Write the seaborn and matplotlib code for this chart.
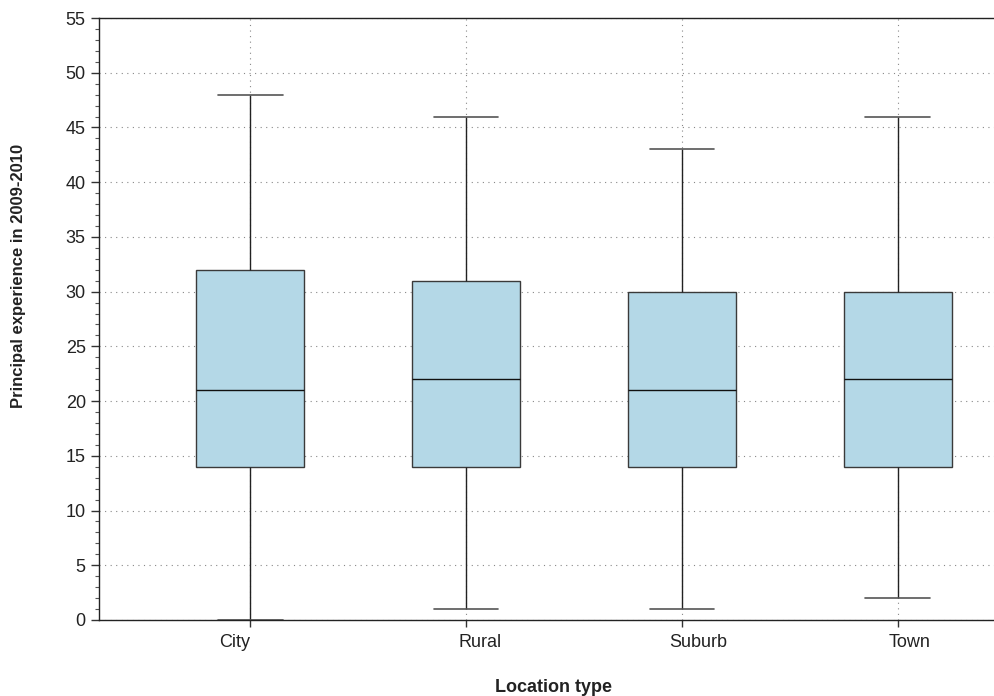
import numpy as np
import pandas as pd
import matplotlib
matplotlib.use("Agg")
import matplotlib.pyplot as plt
import matplotlib.transforms as mtransforms
from matplotlib.ticker import MultipleLocator
import seaborn as sns

# Five-number summaries of principal experience (years) by location type
locations = ["City", "Rural", "Suburb", "Town"]
exp_min = [0, 1, 1, 2]
exp_q1 = [14, 14, 14, 14]
exp_median = [21, 22, 21, 22]
exp_q3 = [32, 31, 30, 30]
exp_max = [48, 46, 43, 46]

rows = []
for loc, a, b, c, d, e in zip(locations, exp_min, exp_q1, exp_median, exp_q3, exp_max):
    for v in (a, b, c, d, e):
        rows.append({"Location type": loc, "experience": v})
df = pd.DataFrame(rows)

sns.set_theme(style="white")
plt.rcParams["font.family"] = ["Liberation Sans", "DejaVu Sans"]

fig = plt.figure(figsize=(9.95, 6.96), dpi=100)
ax = fig.add_axes([0.0995, 0.1092, 0.9005, 0.8649])

sns.boxplot(
    data=df, x="Location type", y="experience", order=locations,
    whis=(0, 100), width=0.5, color="#b4d8e7", saturation=1,
    showfliers=False, capwidths=0.3,
    boxprops=dict(edgecolor="#3a3a3a", linewidth=1.0),
    whiskerprops=dict(color="#222222", linewidth=1.0),
    capprops=dict(color="#555555", linewidth=1.2),
    medianprops=dict(color="#111111", linewidth=1.0),
    ax=ax,
)

ax.set_xlim(-0.70, 3.45)
ax.set_ylim(0, 55)
ax.yaxis.set_major_locator(MultipleLocator(5))
ax.yaxis.set_minor_locator(MultipleLocator(1))

ax.grid(True, which="major", linestyle=(0, (1, 4)), color="#888888", linewidth=0.8)
ax.set_axisbelow(True)

for side in ("left", "bottom", "top"):
    ax.spines[side].set_visible(True)
    ax.spines[side].set_color("#222222")
    ax.spines[side].set_linewidth(1.0)
ax.spines["right"].set_visible(False)

ax.tick_params(axis="y", which="major", direction="out", length=6, width=1,
               color="#333333", labelsize=13, labelcolor="#222222", left=True)
ax.tick_params(axis="y", which="minor", direction="out", length=3, width=0.8,
               color="#555555", left=True)
ax.tick_params(axis="x", which="major", direction="out", length=5, width=1,
               color="#333333", bottom=True)

# Category labels, each nudged slightly sideways
ax.set_xticks(range(len(locations)))
ax.set_xticklabels([])
label_shift_px = [-16, 14, 16, 12]
base = mtransforms.blended_transform_factory(ax.transData, ax.transAxes)
for i, (name, dx) in enumerate(zip(locations, label_shift_px)):
    tr = base + mtransforms.ScaledTranslation(dx / 100, 0, fig.dpi_scale_trans)
    ax.text(i, -0.037, name, transform=tr, ha="center", va="center",
            fontsize=13, color="#222222")

ax.set_xlabel("Location type", fontsize=13, fontweight="bold", color="#222222")
ax.xaxis.label.set_va("center")
ax.xaxis.set_label_coords(0.507, -0.112)
ax.set_ylabel("Principal experience in 2009-2010", fontsize=12, fontweight="bold",
              color="#222222")
ax.yaxis.label.set_va("center")
ax.yaxis.set_label_coords(-0.0893, 0.571)

fig.savefig("out.png", dpi=100)
